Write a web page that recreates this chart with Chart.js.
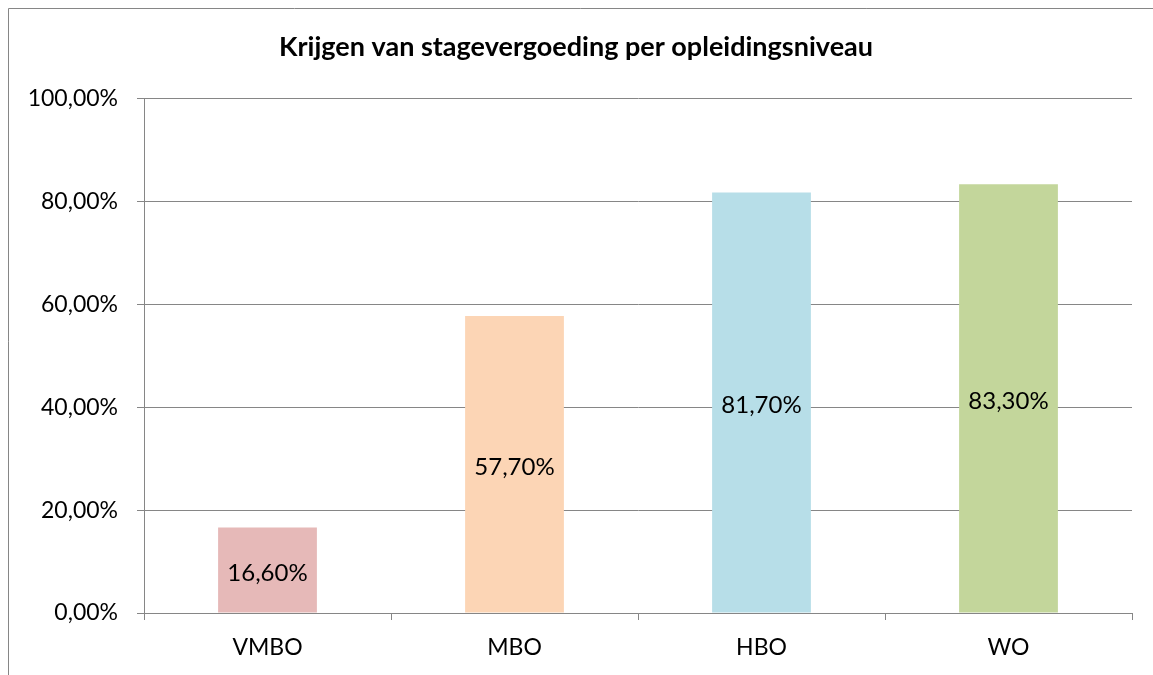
<!DOCTYPE html>
<html>
<head>
<meta charset="utf-8">
<script src="https://cdn.jsdelivr.net/npm/chart.js@4.4.0/dist/chart.umd.min.js"></script>
<style>
  html, body { margin: 0; padding: 0; background: #fff; }
  #wrap { width: 1153px; height: 675px; position: relative; }
</style>
</head>
<body>
<div id="wrap"><canvas id="myChart"></canvas></div>
<script>
const categories = ['VMBO', 'MBO', 'HBO', 'WO'];
const values = [16.6, 57.7, 81.7, 83.3];
const barColors = ['#E6B9B8', '#FCD5B5', '#B7DEE8', '#C3D69B'];
const yTickLabels = ['0,00%', '20,00%', '40,00%', '60,00%', '80,00%', '100,00%'];
const chartTitle = 'Krijgen van stagevergoeding per opleidingsniveau';

const fontFamily = 'Lato, "Open Sans", sans-serif';
const gridColor = '#868686';

function pct(v) {
    return v.toFixed(2).replace('.', ',') + '%';
}

// frame round the chart (cut off at right and bottom like the picture)
const framePlugin = {
    id: 'frame',
    beforeDraw(chart) {
        const c = chart.ctx;
        c.save();
        c.strokeStyle = gridColor;
        c.lineWidth = 1;
        c.beginPath();
        c.moveTo(8.5, chart.height);
        c.lineTo(8.5, 8.5);
        c.lineTo(chart.width, 8.5);
        c.stroke();
        c.restore();
    }
};

// value labels in the middle of each bar
const barLabels = {
    id: 'barLabels',
    afterDatasetsDraw(chart) {
        const c = chart.ctx;
        const meta = chart.getDatasetMeta(0);
        c.save();
        c.font = '24px ' + fontFamily;
        c.fillStyle = '#000';
        c.textAlign = 'center';
        c.textBaseline = 'middle';
        meta.data.forEach(function(bar, i) {
            const mid = (bar.y + bar.base) / 2;
            c.fillText(pct(values[i]), bar.x, mid + 3);
        });
        c.restore();
    }
};

const ctx = document.getElementById('myChart');

new Chart(ctx, {
    type: 'bar',
    data: {
        labels: categories,
        datasets: [{
            data: values,
            backgroundColor: barColors,
            borderWidth: 0,
            barPercentage: 0.4,
            categoryPercentage: 1
        }]
    },
    options: {
        responsive: true,
        maintainAspectRatio: false,
        animation: false,
        layout: { padding: { left: 20, right: 21, top: 0, bottom: 0 } },
        plugins: {
            legend: { display: false },
            tooltip: { enabled: false },
            title: {
                display: true,
                text: chartTitle,
                color: '#000',
                font: { family: fontFamily, size: 27, weight: 'bold', lineHeight: 1.2 },
                padding: { top: 31, bottom: 35 }
            }
        },
        scales: {
            y: {
                min: 0,
                max: 100,
                ticks: {
                    stepSize: 20,
                    color: '#000',
                    padding: 19,
                    font: { family: fontFamily, size: 23 },
                    callback: function(v) { return yTickLabels[Math.round(v / 20)]; }
                },
                grid: { color: gridColor, tickLength: 7, drawTicks: true },
                border: { color: gridColor },
                afterFit: function(scale) { scale.width = 124; }
            },
            x: {
                ticks: {
                    color: '#000',
                    padding: 14,
                    font: { family: fontFamily, size: 23 }
                },
                grid: { offset: true, drawOnChartArea: false, drawTicks: true, tickLength: 7, color: gridColor },
                border: { color: gridColor },
                afterFit: function(scale) { scale.height = 62; }
            }
        }
    },
    plugins: [framePlugin, barLabels]
});
</script>
</body>
</html>
